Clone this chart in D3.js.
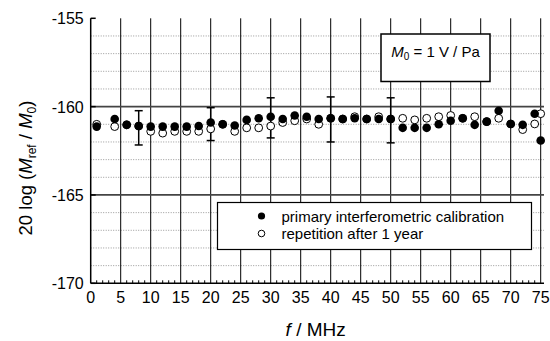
<!DOCTYPE html>
<html>
<head>
<meta charset="utf-8">
<script src="https://cdn.jsdelivr.net/npm/d3@7"></script>
<style>
  body { margin: 0; background: #fff; }
  svg text { font-family: "Liberation Sans", Arial, sans-serif; fill: #000; }
</style>
</head>
<body>
<svg id="chart" width="550" height="341"></svg>
<script>
// frequency (MHz) of each measured point
const freq = [1, 4, 6, 8, 10, 12, 14, 16, 18, 20, 22, 24, 26, 28, 30, 32, 34, 36, 38,
  40, 42, 44, 46, 48, 50, 52, 54, 56, 58, 60, 62, 64, 66, 68, 70, 72, 74, 75];

// primary interferometric calibration (filled)
const primary = [-161.13, -160.7, -161.03, -161.1, -161.13, -161.13, -161.13, -161.13, -161.1, -160.9,
  -161.0, -161.07, -160.75, -160.66, -160.57, -160.7, -160.5, -160.57, -160.7, -160.66,
  -160.7, -160.66, -160.7, -160.7, -160.7, -161.2, -161.2, -161.2, -161.0, -160.8,
  -160.66, -161.03, -160.85, -160.23, -160.98, -161.03, -160.4, -161.92];

// repetition after 1 year (open)
const repetition = [-161.0, -161.13, -161.03, -161.1, -161.4, -161.5, -161.4, -161.4, -161.4, -161.26,
  -161.0, -161.4, -161.2, -161.2, -161.1, -160.9, -160.8, -160.7, -161.0, -160.66,
  -160.7, -160.57, -160.7, -160.57, -160.7, -160.66, -160.75, -160.66, -160.57, -160.5,
  -160.66, -160.57, -160.85, -160.66, -160.98, -161.3, -160.98, -160.4];

// uncertainty bars
const errFreq = [8, 20, 30, 40, 50];
const errHigh = [-160.23, -160.06, -159.5, -159.45, -159.5];
const errLow = [-162.17, -161.92, -161.77, -162.0, -162.05];

const xTicks = d3.range(0, 76, 5);
const yTicks = [-170, -165, -160, -155];
const yMinor = d3.range(-169, -155, 1).filter(v => v % 5 !== 0);

const svg = d3.select('#chart');

const x = d3.scaleLinear().domain([0, 75.55]).range([90.7, 544]);
const y = d3.scaleLinear().domain([-170, -155]).range([283.3, 18.3]);

// minor dotted horizontal grid
svg.append('g')
  .selectAll('line')
  .data(yMinor)
  .join('line')
  .attr('x1', x(0)).attr('x2', x(75.55))
  .attr('y1', d => y(d)).attr('y2', d => y(d))
  .attr('stroke', '#999')
  .attr('stroke-width', 1)
  .attr('stroke-dasharray', '1,1.5');

// vertical grid every 5 MHz
svg.append('g')
  .selectAll('line')
  .data(xTicks.filter(d => d > 0))
  .join('line')
  .attr('x1', d => x(d)).attr('x2', d => x(d))
  .attr('y1', y(-170)).attr('y2', y(-155))
  .attr('stroke', '#000')
  .attr('stroke-width', 1);

// major horizontal grid
svg.append('g')
  .selectAll('line')
  .data([-165, -160])
  .join('line')
  .attr('x1', x(0)).attr('x2', x(75.55))
  .attr('y1', d => y(d)).attr('y2', d => y(d))
  .attr('stroke', '#444')
  .attr('stroke-width', 1.8);

// x axis
const xAxis = svg.append('g').attr('transform', `translate(0,${y(-170)})`);
xAxis.append('line')
  .attr('x1', x(0)).attr('x2', x(75.55)).attr('y1', 0).attr('y2', 0)
  .attr('stroke', '#000').attr('stroke-width', 1.5);
xAxis.selectAll('line.minor')
  .data(d3.range(1, 76).filter(d => d % 5 !== 0))
  .join('line')
  .attr('class', 'minor')
  .attr('x1', d => x(d)).attr('x2', d => x(d))
  .attr('y1', 0).attr('y2', -3)
  .attr('stroke', '#000');
xAxis.selectAll('text')
  .data(xTicks)
  .join('text')
  .attr('x', d => x(d))
  .attr('y', 19.5)
  .attr('text-anchor', 'middle')
  .attr('font-size', 16)
  .text(d => d);

// y axis
const yAxis = svg.append('g');
yAxis.append('line')
  .attr('x1', x(0)).attr('x2', x(0))
  .attr('y1', y(-170)).attr('y2', y(-155))
  .attr('stroke', '#000').attr('stroke-width', 1.5);
yAxis.selectAll('line.tick')
  .data(yTicks)
  .join('line')
  .attr('class', 'tick')
  .attr('x1', x(0)).attr('x2', x(0) + 5)
  .attr('y1', d => y(d)).attr('y2', d => y(d))
  .attr('stroke', '#000').attr('stroke-width', 1.5);
yAxis.selectAll('text')
  .data(yTicks)
  .join('text')
  .attr('x', x(0) - 7)
  .attr('y', d => y(d) + 6)
  .attr('text-anchor', 'end')
  .attr('font-size', 16)
  .text(d => d);

// axis titles
const xt = svg.append('text')
  .attr('x', (x(0) + x(75)) / 2)
  .attr('y', 336)
  .attr('text-anchor', 'middle')
  .attr('font-size', 19);
xt.append('tspan').attr('font-style', 'italic').text('f');
xt.append('tspan').text(' / MHz');

const yt = svg.append('text')
  .attr('transform', 'translate(32,168) rotate(-90)')
  .attr('text-anchor', 'middle')
  .attr('font-size', 18.5);
yt.append('tspan').text('20 log (');
yt.append('tspan').attr('font-style', 'italic').text('M');
yt.append('tspan').attr('font-size', 12).attr('dy', 4).text('ref');
yt.append('tspan').attr('dy', -4).text(' / ');
yt.append('tspan').attr('font-style', 'italic').text('M');
yt.append('tspan').attr('font-size', 12).attr('dy', 4).text('0');
yt.append('tspan').attr('dy', -4).text(')');

// error bars
const eb = svg.append('g').attr('stroke', '#000').attr('stroke-width', 1.5);
errFreq.forEach((f, i) => {
  eb.append('line')
    .attr('x1', x(f)).attr('x2', x(f))
    .attr('y1', y(errHigh[i])).attr('y2', y(errLow[i]));
  [errHigh[i], errLow[i]].forEach(v => {
    eb.append('line')
      .attr('x1', x(f) - 4).attr('x2', x(f) + 4)
      .attr('y1', y(v)).attr('y2', y(v));
  });
});

// data points
svg.append('g')
  .selectAll('circle')
  .data(freq.map((f, i) => [f, repetition[i]]))
  .join('circle')
  .attr('cx', d => x(d[0])).attr('cy', d => y(d[1]))
  .attr('r', 3.9)
  .attr('fill', '#fff').attr('stroke', '#000').attr('stroke-width', 1);

svg.append('g')
  .selectAll('circle')
  .data(freq.map((f, i) => [f, primary[i]]))
  .join('circle')
  .attr('cx', d => x(d[0])).attr('cy', d => y(d[1]))
  .attr('r', 4.3)
  .attr('fill', '#000');

// legend
const lg = svg.append('g');
lg.append('rect')
  .attr('x', 217.5).attr('y', 202.5).attr('width', 314).attr('height', 47)
  .attr('fill', '#fff').attr('stroke', '#000').attr('stroke-width', 1.2);
lg.append('circle').attr('cx', 261.5).attr('cy', 216).attr('r', 3.6).attr('fill', '#000');
lg.append('circle').attr('cx', 261.5).attr('cy', 233.5).attr('r', 3.3)
  .attr('fill', '#fff').attr('stroke', '#000');
lg.append('text').attr('x', 281.5).attr('y', 221.5).attr('font-size', 15)
  .text('primary interferometric calibration');
lg.append('text').attr('x', 281.5).attr('y', 239).attr('font-size', 15)
  .text('repetition after 1 year');

// M0 annotation box
const ann = svg.append('g');
ann.append('rect')
  .attr('x', 381).attr('y', 34).attr('width', 109).attr('height', 47.5)
  .attr('fill', '#fff').attr('stroke', '#000').attr('stroke-width', 1.5);
const at = ann.append('text')
  .attr('x', 435.5).attr('y', 57)
  .attr('text-anchor', 'middle')
  .attr('font-size', 15);
at.append('tspan').attr('font-style', 'italic').text('M');
at.append('tspan').attr('font-size', 10).attr('dy', 3).text('0');
at.append('tspan').attr('dy', -3).text(' = 1 V / Pa');
</script>
</body>
</html>
